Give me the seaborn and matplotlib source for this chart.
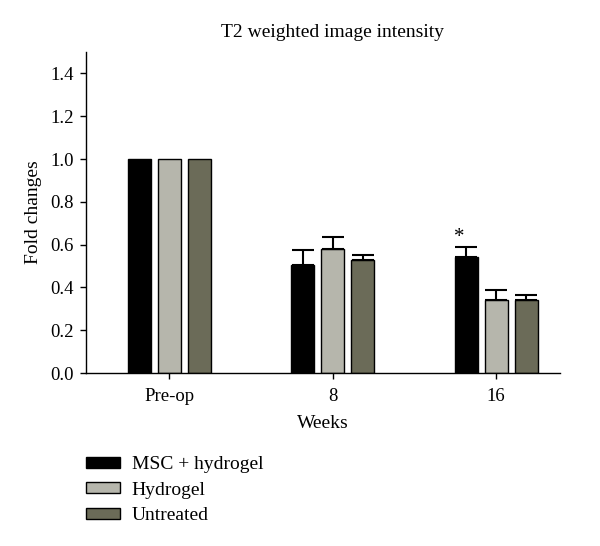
import matplotlib
matplotlib.use("Agg")
import matplotlib.pyplot as plt
import seaborn as sns
import pandas as pd
import numpy as np

weeks = ["Pre-op", "8", "16"]
groups = ["MSC + hydrogel", "Hydrogel", "Untreated"]
msc = [1.0, 0.507, 0.54]
hydrogel = [1.0, 0.58, 0.34]
untreated = [1.0, 0.526, 0.34]
msc_err = [0.0, 0.07, 0.05]
hydrogel_err = [0.0, 0.057, 0.046]
untreated_err = [0.0, 0.027, 0.023]
colors = ["#000000", "#b8b8aa", "#6e6e55"]

sns.set_theme(style="ticks")
plt.rcParams["font.family"] = ["Liberation Serif", "DejaVu Serif"]
plt.rcParams["text.color"] = "black"
plt.rcParams["axes.labelcolor"] = "black"

rows = []
for g, vals, errs in zip(groups, [msc, hydrogel, untreated], [msc_err, hydrogel_err, untreated_err]):
    for w, v, e in zip(weeks, vals, errs):
        rows.append({"Weeks": w, "Group": g, "Value": v, "Err": e})
df = pd.DataFrame(rows)

fig = plt.figure(figsize=(6, 5.46), dpi=100)
ax = fig.add_axes([86/600, 1-373/546, (560-86)/600, (373-52)/546])

sns.barplot(data=df, x="Weeks", y="Value", hue="Group", order=weeks, hue_order=groups,
            palette=colors, width=0.55, gap=0.23, edgecolor="black", linewidth=1.0,
            errorbar=None, ax=ax, legend=True)

# error bars (upper only)
for i, (g, errs, vals) in enumerate(zip(groups, [msc_err, hydrogel_err, untreated_err], [msc, hydrogel, untreated])):
    cont = ax.containers[i]
    for j, bar in enumerate(cont):
        e = errs[j]
        if e > 0:
            xc = bar.get_x() + bar.get_width()/2
            ax.errorbar([xc], [vals[j]], yerr=[[0], [e]], fmt="none", ecolor="black",
                        elinewidth=1.5, capsize=8, capthick=1.5)

# asterisk
bar = ax.containers[0][2]
ax.text(bar.get_x() + bar.get_width()/2 - 0.04, msc[2] + msc_err[2] + 0.045, "*",
        ha="center", va="center", fontsize=15, color="black")

ax.set_ylim(0, 1.5)
ax.set_xlim(-0.508, 2.39)
ax.set_yticks([0, 0.2, 0.4, 0.6, 0.8, 1.0, 1.2, 1.4])
ax.set_yticklabels(["0.0", "0.2", "0.4", "0.6", "0.8", "1.0", "1.2", "1.4"])
ax.tick_params(axis="both", labelsize=13.5, length=4, width=1, direction="out",
               colors="black", labelcolor="black")
ax.tick_params(axis="x", pad=7)
ax.tick_params(axis="y", pad=5)
for s in ["top", "right"]:
    ax.spines[s].set_visible(False)
for s in ["left", "bottom"]:
    ax.spines[s].set_linewidth(1.0)
    ax.spines[s].set_color("black")
ax.set_xlabel("Weeks", fontsize=14, labelpad=7, color="black")
ax.set_ylabel("Fold changes", fontsize=14, labelpad=6, color="black")
ax.set_title("T2 weighted image intensity", fontsize=14, pad=11, x=0.52, color="black")

handles, labels = ax.get_legend_handles_labels()
ax.get_legend().remove()
leg = fig.legend(handles, labels, loc="upper left", bbox_to_anchor=(86/600, 1-456/546),
                 frameon=False, fontsize=14, handlelength=1.75, handleheight=0.5,
                 labelspacing=0.45, handletextpad=0.6, borderpad=0, borderaxespad=0)
for t in leg.get_texts():
    t.set_color("black")

fig.savefig("out.png", dpi=100)
